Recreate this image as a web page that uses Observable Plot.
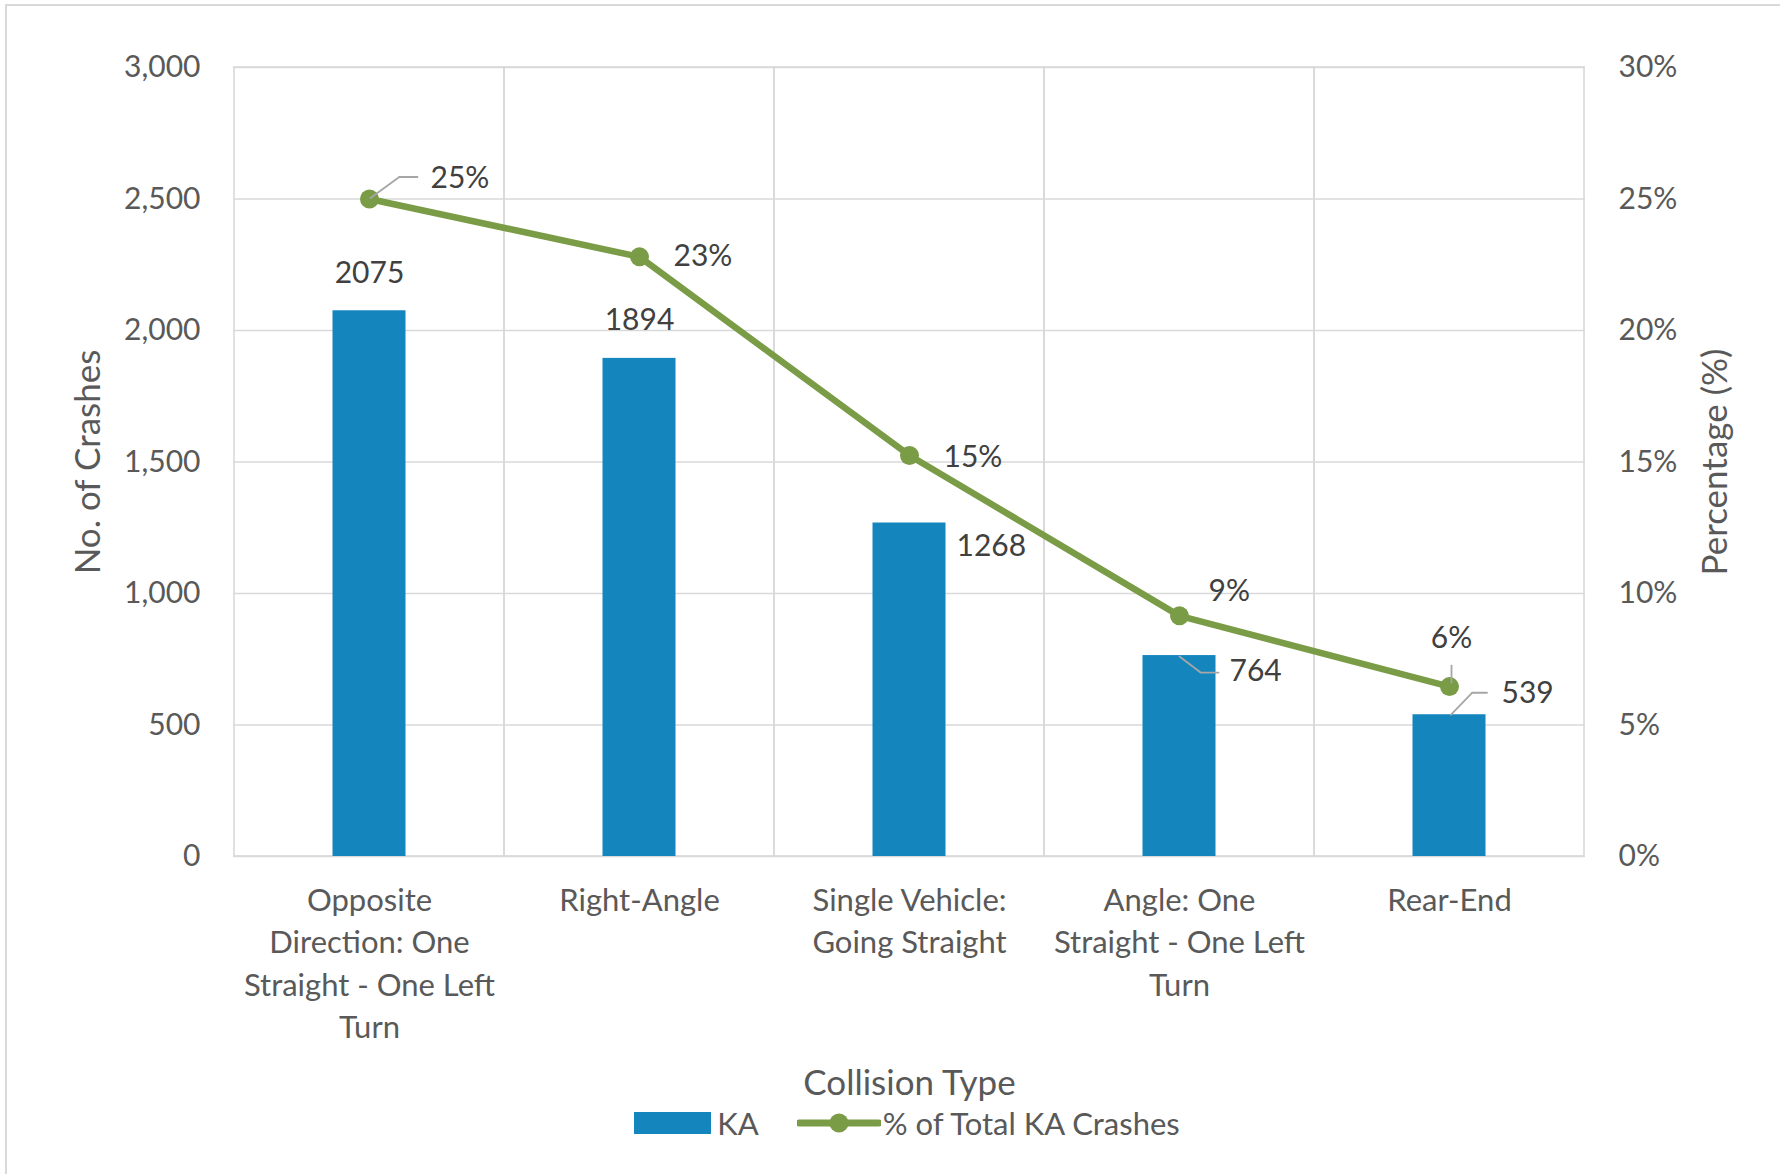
<!DOCTYPE html>
<html>
<head>
<meta charset="utf-8">
<script src="https://cdn.jsdelivr.net/npm/d3@7"></script>
<script src="https://cdn.jsdelivr.net/npm/@observablehq/plot@0.6"></script>
<style>
  html, body { margin: 0; padding: 0; background: #fff; overflow: hidden; }
  #wrap { position: relative; width: 1780px; height: 1174px; font-family: Lato, "Open Sans", sans-serif; }
  #frame { position: absolute; left: 5px; top: 4px; width: 1820px; height: 1220px;
           border: 2px solid #d9d9d9; box-sizing: border-box; }
  #chart { position: absolute; left: 0; top: 0; }
  #legend { position: absolute; left: 0; top: 1106px; width: 1780px; height: 34px;
            display: flex; justify-content: center; align-items: center;
            font-size: 31px; color: #595959; padding-left: 34px; box-sizing: border-box; }
  .sw-bar { width: 77px; height: 22px; background: #1585bd; margin-right: 6px; }
  .sw-line { width: 84px; height: 24px; margin-left: 38px; margin-right: 2px; }
</style>
</head>
<body>
<div id="wrap">
  <div id="frame"></div>
  <div id="chart"></div>
  <div id="legend">
    <div class="sw-bar"></div><span>KA</span>
    <svg class="sw-line" viewBox="0 0 84 24"><line x1="2" y1="12" x2="82" y2="12" stroke="#7a9c46" stroke-width="7" stroke-linecap="round"/><circle cx="42" cy="12" r="9.5" fill="#7a9c46"/></svg><span>% of Total KA Crashes</span>
  </div>
</div>
<script>
// Fatal + serious injury (KA) crashes by collision type
const categories = [
  "Opposite Direction: One Straight - One Left Turn",
  "Right-Angle",
  "Single Vehicle: Going Straight",
  "Angle: One Straight - One Left Turn",
  "Rear-End"
];
const tickLabels = [
  "Opposite\nDirection: One\nStraight - One Left\nTurn",
  "Right-Angle",
  "Single Vehicle:\nGoing Straight",
  "Angle: One\nStraight - One Left\nTurn",
  "Rear-End"
];
const kaCrashes = [2075, 1894, 1268, 764, 539];
const shareOfTotal = [0.25, 0.228, 0.1525, 0.0915, 0.0646];
const countTicks = [0, 500, 1000, 1500, 2000, 2500, 3000];
const shareTicks = [0, 0.05, 0.10, 0.15, 0.20, 0.25, 0.30];

const data = categories.map((category, i) => ({
  category, ka: kaCrashes[i], share: shareOfTotal[i]
}));

// The percentage series shares the count axis: 30% sits at 3,000.
const SHARE_TO_COUNT = 3000 / 0.30;
const shareY = d => d.share * SHARE_TO_COUNT;

const BLUE = "#1585bd";
const GREEN = "#7a9c46";
const GRID = "#d9d9d9";
const AXIS_TEXT = "#595959";
const LABEL_TEXT = "#404040";
const LEADER = "#a6a6a6";

const fmtCount = d3.format(",");
const fmtPct = d3.format(".0%");

// Placement of each data label relative to its mark
const barLabelPlacement = [
  {dx: 0, dy: -37, textAnchor: "middle"},
  {dx: 0, dy: -38, textAnchor: "middle"},
  {dx: 47, dy: 23, textAnchor: "start"},
  {dx: 50, dy: 16, textAnchor: "start"},
  {dx: 52, dy: -21, textAnchor: "start"}
];
const shareLabelPlacement = [
  {dx: 61, dy: -21, textAnchor: "start"},
  {dx: 34, dy: 0, textAnchor: "start"},
  {dx: 34, dy: 2, textAnchor: "start"},
  {dx: 29, dy: -24, textAnchor: "start"},
  {dx: 2, dy: -48, textAnchor: "middle"}
];

// Leader-line segments: {index, dx, dy, length, rotate}
const shareLeaders = [
  {i: 0, dx: 1, dy: -1, length: 36, rotate: 54},
  {i: 0, dx: 30, dy: -22, length: 18, rotate: 90},
  {i: 4, dx: 2, dy: -4, length: 17, rotate: 0}
];
const barLeaders = [
  {i: 3, dx: 0, dy: 1, length: 26, rotate: 127},
  {i: 3, dx: 21, dy: 17, length: 18, rotate: 90},
  {i: 4, dx: 1.5, dy: 0, length: 30, rotate: 44},
  {i: 4, dx: 22.5, dy: -22, length: 15, rotate: 90}
];

const segment = {draw(context, l) { context.moveTo(0, 0); context.lineTo(0, -l); }};

const labelFont = {fontSize: 30, fill: LABEL_TEXT};

const marks = [
  Plot.gridY(countTicks, {stroke: GRID, strokeOpacity: 1, strokeWidth: 1.6}),
  // category cells: vertical separators and outline
  Plot.barY(categories, {x: d => d, y1: 0, y2: 3000, fill: "none", stroke: GRID, strokeWidth: 1.6}),
  Plot.barY(data, {x: "category", y: "ka", fill: BLUE, insetLeft: 98.5, insetRight: 98.5}),
  Plot.lineY(data, {x: "category", y: shareY, stroke: GREEN, strokeWidth: 6.5, strokeLinejoin: "round"}),
  Plot.dot(data, {x: "category", y: shareY, r: 9.5, fill: GREEN}),
  ...shareLeaders.map(s => Plot.vector([data[s.i]], {
    x: "category", y: shareY, length: s.length, rotate: s.rotate, anchor: "start",
    dx: s.dx, dy: s.dy, shape: segment, stroke: LEADER, strokeWidth: 1.8
  })),
  ...barLeaders.map(s => Plot.vector([data[s.i]], {
    x: "category", y: "ka", length: s.length, rotate: s.rotate, anchor: "start",
    dx: s.dx, dy: s.dy, shape: segment, stroke: LEADER, strokeWidth: 1.8
  })),
  ...barLabelPlacement.map((p, i) => Plot.text([data[i]], {
    x: "category", y: "ka", text: d => String(d.ka), ...p, ...labelFont
  })),
  ...shareLabelPlacement.map((p, i) => Plot.text([data[i]], {
    x: "category", y: shareY, text: d => fmtPct(d.share), ...p, ...labelFont
  })),
  Plot.axisY(countTicks, {anchor: "left", tickSize: 0, tickPadding: 33, tickFormat: fmtCount,
    fontSize: 30, fill: AXIS_TEXT, label: null}),
  Plot.axisY(shareTicks.map(v => v * SHARE_TO_COUNT), {anchor: "right", tickSize: 0, tickPadding: 33,
    tickFormat: v => fmtPct(v / SHARE_TO_COUNT), fontSize: 30, fill: AXIS_TEXT, label: null}),
  // category names under each cell
  Plot.text(categories, {x: d => d, frameAnchor: "bottom", lineAnchor: "top", dy: 24,
    text: (d, i) => tickLabels[i], fontSize: 31, lineHeight: 1.37, fill: AXIS_TEXT}),
  // axis titles
  Plot.text(["No. of Crashes"], {frameAnchor: "left", textAnchor: "middle", rotate: -90, dx: -145,
    fontSize: 35, fill: AXIS_TEXT}),
  Plot.text(["Percentage (%)"], {frameAnchor: "right", textAnchor: "middle", rotate: -90, dx: 130,
    fontSize: 35, fill: AXIS_TEXT}),
  Plot.text(["Collision Type"], {frameAnchor: "bottom", dy: 238, fontSize: 35, fill: AXIS_TEXT})
];

const chart = Plot.plot({
  width: 1780,
  height: 1100,
  marginLeft: 233,
  marginRight: 195,
  marginTop: 67,
  marginBottom: 244,
  x: {domain: categories, padding: 0, axis: null},
  y: {domain: [0, 3000], axis: null},
  style: {fontFamily: "Lato, 'Open Sans', sans-serif", background: "transparent", overflow: "visible"},
  marks
});
document.getElementById("chart").appendChild(chart);
</script>
</body>
</html>
